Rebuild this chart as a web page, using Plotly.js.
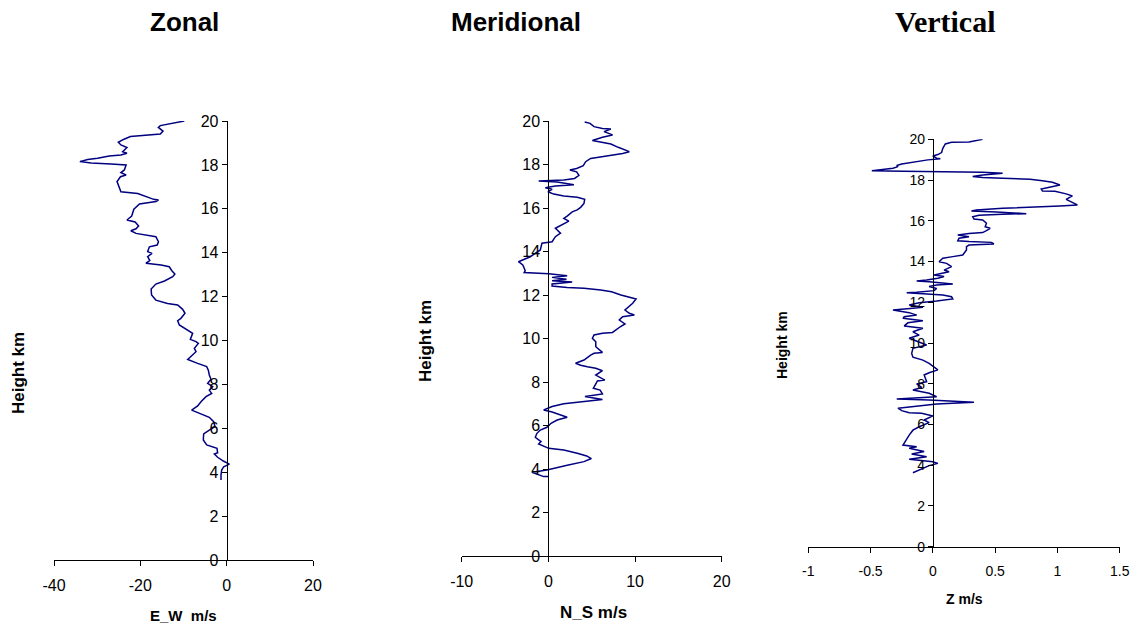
<!DOCTYPE html>
<html>
<head>
<meta charset="utf-8">
<script src="https://cdn.plot.ly/plotly-3.0.1.min.js"></script>
<style>
  html, body { margin: 0; padding: 0; background: #fff; }
  #chart { width: 1136px; height: 629px; }
</style>
</head>
<body>
<div id="chart"></div>
<script>
// ---------------- DATA ----------------
const panelTitles = ["Zonal", "Meridional", "Vertical"];
const xAxisTitles = ["E_W\u00a0\u00a0m/s", "N_S m/s", "Z m/s"];
const yAxisTitle = "Height km";

const zonalSpeed = [-9.81,-15.37,-15.83,-14.75,-15.37,-18.3,-22.3,-23.9,-25.1,-24.5,-23.1,-24.1,-23.1,-24.5,-27.2,-29.9,-32.2,-34.0,-31.4,-26.8,-23.3,-23.7,-24.5,-23.3,-24.6,-25.4,-24.8,-24.5,-20.6,-18.3,-16.9,-15.8,-16.4,-20.2,-21.5,-22.0,-23.1,-21.2,-20.4,-21.0,-22.2,-21.0,-16.4,-15.8,-16.1,-17.9,-18.3,-17.3,-18.3,-17.8,-18.7,-15.2,-13.3,-12.7,-12.0,-12.5,-14.4,-16.4,-17.5,-17.4,-16.4,-13.7,-11.35,-10.2,-9.65,-10.6,-11.35,-10.97,-9.03,-7.88,-8.42,-7.10,-6.56,-7.49,-7.10,-9.03,-6.72,-4.63,-4.25,-4.02,-3.63,-4.40,-3.24,-4.02,-3.47,-4.79,-5.95,-6.72,-8.11,-5.95,-4.02,-3.01,-2.70,-4.02,-5.33,-5.41,-4.63,-2.24,-2.09,-2.86,-2.09,-0.77,0.62,-0.69,-1.16,-1.31,-1.31];
const zonalHeight = [20.0,19.79,19.71,19.54,19.41,19.36,19.29,19.16,19.03,18.91,18.79,18.60,18.53,18.45,18.41,18.30,18.25,18.15,18.09,18.04,18.0,17.77,17.65,17.54,17.46,17.24,16.98,16.78,16.70,16.52,16.43,16.40,16.33,16.22,15.98,15.67,15.49,15.40,15.22,15.09,15.0,14.88,14.73,14.50,14.35,14.27,14.05,13.97,13.82,13.64,13.52,13.44,13.36,13.18,13.03,12.91,12.71,12.57,12.35,12.07,11.84,11.69,11.62,11.42,11.24,11.01,10.90,10.71,10.48,10.33,10.05,9.95,9.87,9.64,9.49,9.14,8.96,8.81,8.65,8.43,8.23,8.05,7.90,7.74,7.59,7.44,7.21,7.02,6.83,6.65,6.50,6.30,6.07,5.92,5.74,5.47,5.24,5.09,4.89,4.83,4.68,4.51,4.37,4.25,4.10,3.87,3.64];

const meridSpeed = [4.19,4.81,5.27,6.24,7.21,6.43,7.40,6.24,5.08,6.24,7.21,8.06,8.76,9.34,8.57,7.40,6.24,4.88,4.30,4.03,3.26,2.48,3.26,3.53,3.02,1.78,0.31,-1.12,1.01,2.95,0.81,-0.35,0.43,-0.04,0.62,1.78,3.33,4.19,4.11,3.72,3.33,2.75,2.17,1.78,2.36,1.59,0.81,1.40,0.81,0.43,-0.74,-0.93,-2.09,-3.45,-2.95,-2.67,-2.79,0.04,1.40,2.17,0.43,2.09,0.43,2.75,0.43,0.43,2.17,4.11,6.05,7.29,8.37,10.12,9.73,8.84,9.34,9.92,8.57,8.18,8.84,8.29,7.40,6.24,5.27,5.08,5.47,5.47,6.24,5.27,4.88,4.11,3.14,3.72,4.50,5.47,6.24,5.47,6.51,5.66,5.19,5.97,6.24,5.27,4.22,6.24,4.69,3.33,1.78,0.43,-0.54,0.43,1.40,2.17,1.01,0.31,-0.16,-0.93,-1.32,-1.51,-0.85,-1.12,0.04,1.78,3.33,4.42,4.96,4.11,2.17,0.62,-0.16,-1.90,-1.32,-0.54,0.04];
const meridHeight = [19.95,19.89,19.74,19.66,19.63,19.51,19.36,19.25,19.10,19.02,18.94,18.79,18.67,18.59,18.51,18.44,18.36,18.28,18.13,17.95,17.82,17.75,17.66,17.50,17.36,17.29,17.26,17.24,17.20,17.07,17.01,16.93,16.86,16.75,16.64,16.55,16.49,16.40,16.21,16.03,15.91,15.82,15.63,15.52,15.40,15.22,15.07,14.84,14.68,14.45,14.38,14.07,13.76,13.53,13.38,13.12,13.03,12.98,12.92,12.89,12.81,12.72,12.66,12.60,12.51,12.41,12.35,12.31,12.23,12.15,12.0,11.82,11.62,11.31,11.16,11.08,11.0,10.85,10.67,10.54,10.28,10.24,10.16,10.01,9.85,9.62,9.36,9.32,9.24,9.01,8.86,8.77,8.70,8.63,8.52,8.32,8.09,8.05,7.71,7.63,7.45,7.39,7.33,7.20,7.14,7.08,7.00,6.87,6.71,6.62,6.47,6.38,6.25,6.10,5.92,5.79,5.64,5.46,5.26,5.15,4.95,4.87,4.72,4.60,4.48,4.34,4.17,4.03,3.95,3.85,3.77,3.65,3.65];

const vertSpeed = [0.40,0.29,0.15,0.10,0.08,0.07,0.04,0.0,0.03,0.06,-0.04,-0.19,-0.25,-0.29,-0.28,-0.32,-0.39,-0.49,-0.24,0.03,0.40,0.56,0.40,0.32,0.40,0.56,0.78,0.88,0.96,1.02,0.95,0.87,0.88,0.98,1.07,1.12,1.07,1.11,1.16,1.02,0.83,0.56,0.35,0.31,0.51,0.67,0.75,0.56,0.37,0.32,0.33,0.40,0.43,0.42,0.46,0.43,0.40,0.29,0.20,0.29,0.21,0.20,0.29,0.47,0.49,0.29,0.27,0.27,0.24,0.16,0.08,0.05,0.11,0.15,0.09,0.13,0.05,0.01,0.09,0.04,-0.05,-0.13,-0.03,0.08,0.16,0.03,-0.03,0.03,0.01,-0.13,-0.21,-0.08,0.08,0.15,0.16,0.03,-0.11,-0.19,-0.08,-0.16,-0.32,-0.19,-0.13,-0.23,-0.24,-0.08,-0.20,-0.23,-0.08,-0.16,-0.11,-0.19,-0.12,-0.05,-0.16,-0.17,-0.16,-0.08,-0.03,0.04,-0.03,-0.07,-0.05,-0.13,-0.09,-0.16,-0.03,0.03,-0.29,-0.03,0.33,0.03,-0.28,-0.25,-0.19,-0.09,0.0,-0.07,-0.03,-0.11,-0.16,-0.19,-0.24,-0.13,-0.19,-0.07,-0.17,-0.05,-0.19,0.0,0.04,-0.03,-0.16];
const vertHeight = [20.0,19.87,19.85,19.77,19.56,19.35,19.25,19.18,19.07,19.05,18.99,18.87,18.79,18.71,18.66,18.58,18.53,18.46,18.43,18.41,18.38,18.33,18.25,18.17,18.12,18.09,18.04,17.97,17.89,17.76,17.68,17.56,17.46,17.45,17.32,17.22,17.05,16.94,16.78,16.73,16.69,16.61,16.53,16.48,16.43,16.37,16.35,16.32,16.27,16.20,16.09,16.04,15.88,15.71,15.63,15.52,15.42,15.38,15.30,15.22,15.14,15.02,14.98,14.94,14.86,14.81,14.73,14.57,14.32,14.24,14.16,13.99,13.91,13.75,13.58,13.50,13.39,13.34,13.26,13.18,13.09,13.04,13.01,12.93,12.90,12.85,12.77,12.68,12.57,12.49,12.47,12.42,12.36,12.27,12.16,12.06,11.98,11.87,11.75,11.70,11.62,11.49,11.37,11.29,11.21,11.09,10.99,10.84,10.72,10.55,10.39,10.23,10.06,9.90,9.74,9.49,9.30,9.16,9.00,8.68,8.54,8.43,8.10,7.99,7.82,7.69,7.53,7.36,7.25,7.20,7.09,7.01,6.80,6.68,6.58,6.55,6.42,6.22,6.09,5.89,5.72,5.48,4.99,4.91,4.83,4.67,4.55,4.42,4.29,4.17,4.09,3.98,3.63];

// tick values and labels (hyphen-minus as in the original)
const zonalTicks = [-40, -20, 0, 20];
const zonalTickLabels = ["-40", "-20", "0", "20"];
const meridTicks = [-10, 0, 10, 20];
const meridTickLabels = ["-10", "0", "10", "20"];
const vertTicks = [-1, -0.5, 0, 0.5, 1, 1.5];
const vertTickLabels = ["-1", "-0.5", "0", "0.5", "1", "1.5"];
const heightTicks = [0, 2, 4, 6, 8, 10, 12, 14, 16, 18, 20];

const xRanges = [[-40, 20], [-10, 20], [-1, 1.5]];
const yRange = [0, 20];

// ---------------- LAYOUT (pixel-based) ----------------
const W = 1136, H = 629;
const px = x => x / W;
const py = y => 1 - y / H;

// plot boxes in pixels: [left, right, top, bottom]
const boxes = [
  [54, 313, 121, 560],
  [461.7, 721.7, 121, 556],
  [808.3, 1119.7, 139.3, 546.7]
];
const xTickSets = [[zonalTicks, zonalTickLabels], [meridTicks, meridTickLabels], [vertTicks, vertTickLabels]];
const tickFont = [16, 16, 14];
const lineColor = '#000080';

const series = [[zonalSpeed, zonalHeight], [meridSpeed, meridHeight], [vertSpeed, vertHeight]];

const data = series.map((s, i) => ({
  x: s[0], y: s[1],
  type: 'scatter', mode: 'lines',
  line: { color: lineColor, width: 1.5 },
  xaxis: i === 0 ? 'x' : 'x' + (i + 1),
  yaxis: i === 0 ? 'y' : 'y' + (i + 1),
  hoverinfo: 'skip', showlegend: false
}));

const layout = {
  width: W, height: H,
  margin: { l: 0, r: 0, t: 0, b: 0 },
  paper_bgcolor: '#fff', plot_bgcolor: 'rgba(0,0,0,0)',
  font: { family: 'Liberation Sans, Arial, sans-serif', color: '#000' },
  showlegend: false,
  annotations: []
};

boxes.forEach((b, i) => {
  const sfx = i === 0 ? '' : String(i + 1);
  const xr = xRanges[i];
  const xdom = [px(b[0]), px(b[1])];
  const ydom = [py(b[3]), py(b[2])];
  const zeroFrac = xdom[0] + (0 - xr[0]) / (xr[1] - xr[0]) * (xdom[1] - xdom[0]);
  layout['xaxis' + sfx] = {
    domain: xdom, range: xr,
    tickmode: 'array', tickvals: xTickSets[i][0], ticktext: xTickSets[i][1],
    anchor: 'y' + sfx, side: 'bottom',
    showline: true, linecolor: '#000', linewidth: 1,
    ticks: 'outside', ticklen: 5, tickcolor: '#000', tickwidth: 1,
    showgrid: false, zeroline: false,
    tickfont: { size: tickFont[i], color: '#000' },
    ticklabelstandoff: 6,
    fixedrange: true
  };
  layout['yaxis' + sfx] = {
    domain: ydom, range: yRange,
    tickmode: 'array', tickvals: heightTicks,
    anchor: 'free', position: zeroFrac, side: 'left',
    showline: true, linecolor: '#000', linewidth: 1,
    ticks: 'outside', ticklen: 5, tickcolor: '#000', tickwidth: 1,
    showgrid: false, zeroline: false,
    tickfont: { size: tickFont[i], color: '#000' },
    fixedrange: true
  };
});

// titles
const titlePos = [[184, 22, 26, 'Liberation Sans, Arial, sans-serif'],
                  [516, 22, 26, 'Liberation Sans, Arial, sans-serif'],
                  [946, 22, 30, 'Liberation Serif, Times New Roman, serif']];
titlePos.forEach((t, i) => {
  layout.annotations.push({
    text: '<b>' + panelTitles[i] + '</b>', xref: 'paper', yref: 'paper',
    x: px(t[0]), y: py(t[1]), xanchor: 'center', yanchor: 'middle',
    showarrow: false, font: { size: t[2], family: t[3], color: '#000' }
  });
});

// x axis titles
const xtPos = [[183, 615, 15], [593, 612, 17], [964, 599, 14]];
xtPos.forEach((t, i) => {
  layout.annotations.push({
    text: '<b>' + xAxisTitles[i] + '</b>', xref: 'paper', yref: 'paper',
    x: px(t[0]), y: py(t[1]), xanchor: 'center', yanchor: 'middle',
    showarrow: false, font: { size: t[2], color: '#000' }
  });
});

// y axis titles
const ytPos = [[18, 373, 17], [425, 341, 17], [782, 345, 14]];
ytPos.forEach((t, i) => {
  layout.annotations.push({
    text: '<b>' + yAxisTitle + '</b>', xref: 'paper', yref: 'paper',
    x: px(t[0]), y: py(t[1]), xanchor: 'center', yanchor: 'middle',
    textangle: -90, showarrow: false, font: { size: t[2], color: '#000' }
  });
});

Plotly.newPlot('chart', data, layout, { displayModeBar: false, staticPlot: true });
</script>
</body>
</html>
